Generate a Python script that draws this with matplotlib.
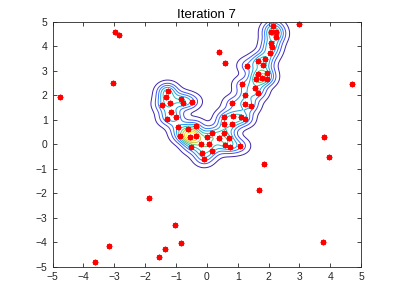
import numpy as np
import matplotlib
matplotlib.use("Agg")
import matplotlib.pyplot as plt
from matplotlib.colors import LinearSegmentedColormap

plt.rcParams['font.family'] = ['Liberation Sans', 'DejaVu Sans']

# samples (red asterisks); weight 0 = far sample that adds nothing to the density
sample_x = [-4.76, -2.98, -2.83, -3.05, -1.86, -1.04, -0.82, -1.34, -1.56, -3.18, -3.62,
            3.00, 4.69, 3.79, 3.96, 1.86, 1.69, 3.77, 0.38, 0.59,
            2.16, 2.25, 2.07, 2.25, 2.07, 2.10, 2.05, 1.67, 1.87, 1.31, 1.83, 1.94,
            1.67, 1.78, 1.94, 1.59, 1.15, 1.56, 1.67, 1.25, 0.83, 1.25, 1.42,
            0.57, 0.86, 1.10, 1.24, 0.83, 0.57, 0.57, 0.40, 0.72, 0.16, 0.59,
            1.08, 0.75, 0.17, 0.02, -0.16, -0.08, -0.51, -0.19, 0.07, -0.87,
            -0.92, -0.60, -0.35, -0.36, -0.54,
            -1.27, -1.33, -1.19, -1.44, -0.83, -0.76, -0.49, -1.17, -1.30, -1.01]
sample_y = [1.93, 4.58, 4.46, 2.50, -2.18, -3.30, -4.02, -4.28, -4.60, -4.14, -4.81,
            4.90, 2.47, 0.32, -0.52, -0.78, -1.84, -3.97, 3.78, 3.34,
            4.84, 4.60, 4.58, 4.40, 4.13, 3.97, 3.72, 3.42, 3.49, 3.22, 3.24, 2.91,
            2.87, 2.70, 2.66, 2.66, 2.45, 2.30, 2.09, 2.02, 1.68, 1.65, 1.58,
            1.13, 1.16, 1.13, 1.03, 0.82, 0.82, 0.48, 0.25, 0.25, 0.48, -0.02,
            -0.06, -0.09, -0.26, 0.29, -0.33, -0.60, -0.09, 0.02, 0.02, 0.36,
            0.70, 0.62, 0.36, 0.76, 0.32,
            2.20, 1.95, 1.71, 1.61, 1.86, 1.71, 1.75, 1.34, 1.05, 1.11]
sample_w = [0] * 20 + [1] * 48 + [3.2] + [2.0] + [1] * 9

parula = LinearSegmentedColormap.from_list('parula', [
    (0.2422, 0.1504, 0.6603), (0.2810, 0.3228, 0.9579), (0.1786, 0.5289, 0.9682),
    (0.0689, 0.6948, 0.8394), (0.2161, 0.7843, 0.5923), (0.6720, 0.7793, 0.2227),
    (0.9970, 0.7659, 0.2199), (0.9769, 0.9839, 0.0805)])

sx = np.array(sample_x)
sy = np.array(sample_y)
sw = np.array(sample_w, dtype=float)

gx, gy = np.meshgrid(np.linspace(-5, 5, 301), np.linspace(-5, 5, 301))
h = 0.22
dens = np.zeros_like(gx)
for x0, y0, w0 in zip(sx, sy, sw):
    if w0 > 0:
        dens += w0 * np.exp(-((gx - x0) ** 2 + (gy - y0) ** 2) / (2 * h * h))

fig = plt.figure(figsize=(3.99, 3.0), dpi=100)
ax = fig.add_axes([0.1316, 0.11, 0.7734, 0.8167])
levels = np.linspace(dens.max() * 0.06, dens.max() * 0.9, 9)
ax.contour(gx, gy, dens, levels=levels, cmap=parula, linewidths=0.7)
ax.plot(sx, sy, linestyle='none', marker=(8, 2, 0), color='red', markersize=4,
        markeredgewidth=1.0, clip_on=False)

ax.set_xlim(-5, 5)
ax.set_ylim(-5, 5)
ax.set_xticks(range(-5, 6))
ax.set_yticks(range(-5, 6))
ax.tick_params(direction='in', top=True, right=True, labelsize=7.5, colors='#262626',
               length=3, width=0.6)
for s in ax.spines.values():
    s.set_color('#262626')
    s.set_linewidth(0.6)
ax.set_title('Iteration 7', fontsize=9.5, color='black', pad=3)

fig.savefig('out.png', dpi=100)
